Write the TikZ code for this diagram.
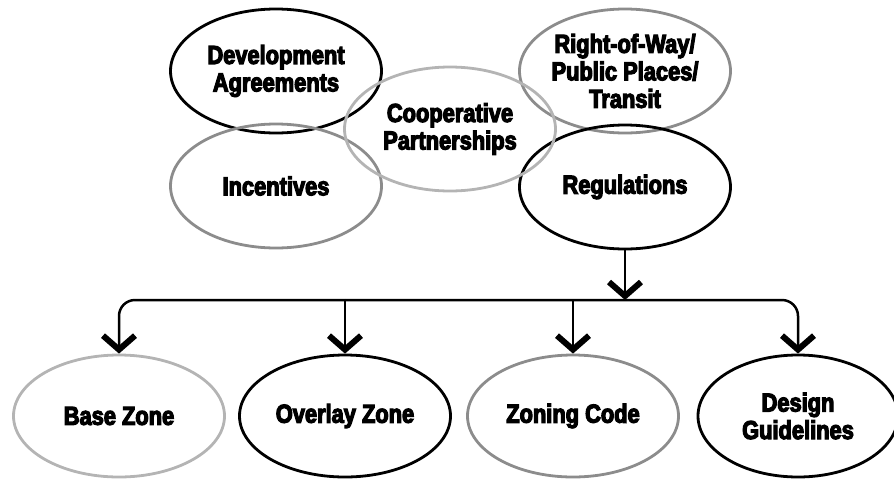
\documentclass[tikz,border=0pt]{standalone}
\usepackage{fontspec}
\newfontfamily\lab{Liberation Sans}[FakeStretch=0.84,FakeBold=4.5]
\usetikzlibrary{shapes.geometric,arrows.meta}
\definecolor{lgray}{HTML}{B4B4B4}
\definecolor{mgray}{HTML}{8C8C8C}
\tikzset{
  oval/.style={ellipse, draw, line width=2.8pt, minimum width=211pt, minimum height=124pt,
    inner sep=0pt, align=center, font=\lab\bfseries\fontsize{26}{27.5}\selectfont},
  conn/.style={line width=2.5pt, rounded corners=16pt,
    -{Straight Barb[length=14pt,width=32pt,line width=6pt]}}
}
\begin{document}
\begin{tikzpicture}[x=1pt,y=-1pt]
\useasboundingbox (0,0) rectangle (894,480);
\node[oval] (dev) at (276,71) {Development\\Agreements};
\node[oval, draw=mgray] (inc) at (276,186) {Incentives};
\node[oval, draw=mgray] (row) at (625,71) {Right-of-Way/\\Public Places/\\Transit};
\node[oval] (reg) at (625,187) {Regulations};
\node[oval, draw=lgray] (coop) at (450,129) {Cooperative\\Partnerships};
\node[oval, draw=lgray, minimum height=122pt] (base) at (119,416) {Base Zone};
\node[oval, minimum height=122pt] (over) at (345,416) {Overlay Zone};
\node[oval, draw=mgray, minimum height=122pt] (zone) at (573,416) {Zoning Code};
\node[oval, minimum height=122pt, minimum width=200pt] (des) at (798,416) {Design\\Guidelines};
\coordinate (bus) at (0,300);
\draw[conn] (reg.south) -- (reg.south |- bus);
\draw[conn] (over.north |- bus) -| (base.north);
\draw[conn] (over.north |- bus) -| (des.north);
\draw[conn] (over.north |- bus) -- (over.north);
\draw[conn] (zone.north |- bus) -- (zone.north);
\end{tikzpicture}
\end{document}
